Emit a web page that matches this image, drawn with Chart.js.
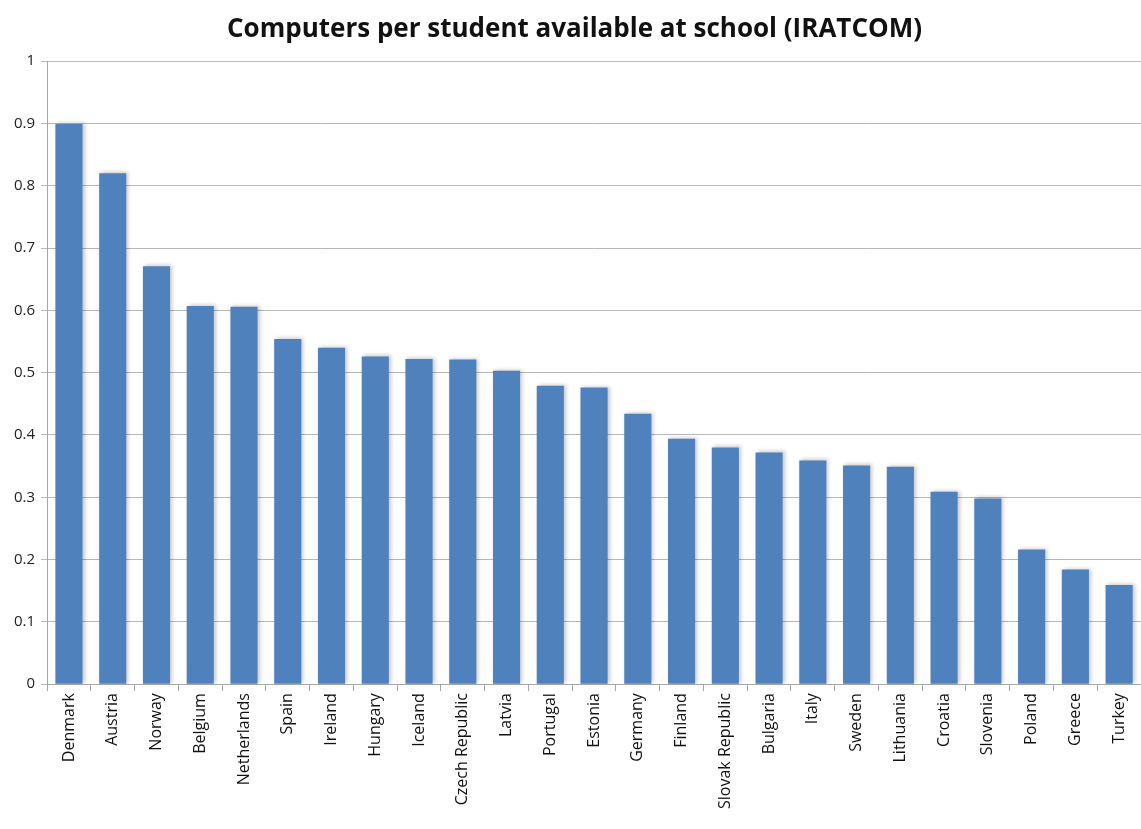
<!DOCTYPE html>
<html>
<head>
<meta charset="utf-8">
<script src="https://cdn.jsdelivr.net/npm/chart.js@4/dist/chart.umd.min.js"></script>
<style>
  html, body { margin: 0; padding: 0; background: #fff; }
  #wrap { width: 1141px; height: 829px; }
</style>
</head>
<body>
<div id="wrap"><canvas id="chart"></canvas></div>
<script>
// Страны и значения IRATCOM
const countries = ['Denmark', 'Austria', 'Norway', 'Belgium', 'Netherlands', 'Spain', 'Ireland',
  'Hungary', 'Iceland', 'Czech Republic', 'Latvia', 'Portugal', 'Estonia', 'Germany', 'Finland',
  'Slovak Republic', 'Bulgaria', 'Italy', 'Sweden', 'Lithuania', 'Croatia', 'Slovenia', 'Poland',
  'Greece', 'Turkey'];
const iratcom = [0.899, 0.820, 0.671, 0.607, 0.606, 0.554, 0.540, 0.526, 0.522, 0.521, 0.503,
  0.479, 0.476, 0.434, 0.394, 0.380, 0.372, 0.359, 0.351, 0.349, 0.309, 0.298, 0.216, 0.184, 0.159];
const yTicks = [0, 0.1, 0.2, 0.3, 0.4, 0.5, 0.6, 0.7, 0.8, 0.9, 1];

const FONT = '"Open Sans", "Liberation Sans", sans-serif';

// Светлая тень вокруг столбцов
const barShadow = {
    id: 'barShadow',
    beforeDatasetsDraw(chart) {
        const ctx = chart.ctx;
        ctx.save();
        ctx.shadowColor = 'rgba(0, 0, 0, 0.22)';
        ctx.shadowBlur = 4;
        ctx.shadowOffsetX = 2;
        ctx.shadowOffsetY = -1;
    },
    afterDatasetsDraw(chart) {
        chart.ctx.restore();
    }
};

const ctx = document.getElementById('chart').getContext('2d');
new Chart(ctx, {
    type: 'bar',
    data: {
        labels: countries,
        datasets: [{
            data: iratcom,
            backgroundColor: '#4f81bd',
            borderWidth: 0,
            categoryPercentage: 1,
            barPercentage: 0.62
        }]
    },
    options: {
        responsive: true,
        maintainAspectRatio: false,
        animation: false,
        layout: { padding: { top: 8, right: 0, left: 8, bottom: 18 } },
        plugins: {
            legend: { display: false },
            tooltip: { enabled: false },
            title: {
                display: true,
                text: 'Computers per student available at school (IRATCOM)',
                color: '#111',
                font: { family: FONT, size: 26, weight: 'bold' },
                padding: { top: 6, bottom: 16 }
            }
        },
        scales: {
            y: {
                min: 0,
                max: 1,
                afterBuildTicks: axis => {
                    axis.ticks = yTicks.map(v => ({ value: v }));
                },
                ticks: {
                    color: '#222',
                    font: { family: FONT, size: 15 },
                    padding: 6,
                    callback: v => String(v)
                },
                grid: {
                    color: '#b8b8b8',
                    lineWidth: 1,
                    tickLength: 6
                },
                border: { color: '#a6a6a6', width: 1 }
            },
            x: {
                ticks: {
                    color: '#111',
                    font: { family: FONT, size: 16 },
                    minRotation: 90,
                    maxRotation: 90,
                    autoSkip: false,
                    padding: 2
                },
                grid: {
                    offset: true,
                    drawOnChartArea: false,
                    color: '#a6a6a6',
                    tickLength: 7
                },
                border: { color: '#a6a6a6', width: 1 }
            }
        }
    },
    plugins: [barShadow]
});
</script>
</body>
</html>
